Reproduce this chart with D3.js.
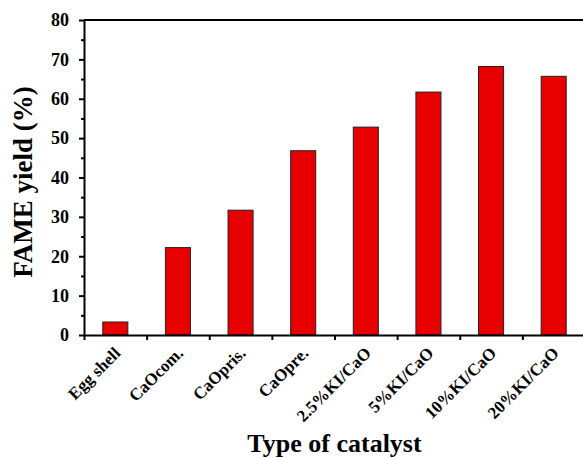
<!DOCTYPE html>
<html>
<head>
<meta charset="utf-8">
<script src="https://cdn.jsdelivr.net/npm/d3@7"></script>
<style>
  body { margin: 0; background: #fff; }
  svg { display: block; }
  text { font-family: "Liberation Serif", "Times New Roman", serif; font-weight: bold; fill: #000; }
</style>
</head>
<body>
<svg id="chart" width="583" height="459"></svg>
<script>
// data
const catalysts = ["Egg shell", "CaOcom.", "CaOpris.", "CaOpre.", "2.5%KI/CaO", "5%KI/CaO", "10%KI/CaO", "20%KI/CaO"];
const fameYield = [3.3, 22.2, 31.7, 46.8, 52.8, 61.7, 68.2, 65.7];
const yTicks = [0, 10, 20, 30, 40, 50, 60, 70, 80];
const yMinor = [5, 15, 25, 35, 45, 55, 65, 75];

const svg = d3.select("#chart");
const plotL = 84, plotR = 585, plotT = 20, plotB = 335;

const x = d3.scaleBand().domain(catalysts).range([plotL, plotR])
  .paddingInner(0.6).paddingOuter(0.3);
// tick marks sit on the boundaries between categories
const xEdge = d3.scaleLinear().domain([0, catalysts.length]).range([plotL, plotR]);
const y = d3.scaleLinear().domain([0, 80]).range([plotB, plotT]);

/* ---------- bars ---------- */
svg.append("g").selectAll("rect")
  .data(catalysts)
  .join("rect")
  .attr("x", d => x(d))
  .attr("y", (d, i) => y(fameYield[i]))
  .attr("width", x.bandwidth())
  .attr("height", (d, i) => y(0) - y(fameYield[i]))
  .attr("fill", "#e80000")
  .attr("stroke", "#222")
  .attr("stroke-width", 1);

/* ---------- axes ---------- */
const yAxis = svg.append("g").attr("transform", `translate(${plotL},0)`)
  .call(d3.axisLeft(y).tickValues(yTicks).tickSize(5).tickSizeOuter(0).tickPadding(10));
svg.append("g").attr("transform", `translate(${plotL},0)`)
  .call(d3.axisLeft(y).tickValues(yMinor).tickSize(3).tickFormat(""))
  .call(g => g.select(".domain").remove());
yAxis.selectAll("text").style("font-size", "18px");

svg.append("g").attr("transform", `translate(0,${plotB})`)
  .call(d3.axisBottom(xEdge).tickValues(d3.range(0, catalysts.length + 1)).tickSize(5).tickSizeOuter(0).tickFormat(""));

svg.selectAll(".domain, .tick line").attr("stroke", "#000").attr("stroke-width", 2);

// top frame line
svg.append("line")
  .attr("x1", plotL).attr("x2", plotR).attr("y1", plotT).attr("y2", plotT)
  .attr("stroke", "#000").attr("stroke-width", 2);

/* ---------- category labels ---------- */
svg.append("g").selectAll("text")
  .data(catalysts)
  .join("text")
  .attr("transform", d => `translate(${x(d) + x.bandwidth() / 2 + 2},350) rotate(-45)`)
  .attr("text-anchor", "end")
  .attr("dy", "0.35em")
  .style("font-size", "17px")
  .text(d => d);

/* ---------- axis titles ---------- */
svg.append("text")
  .attr("x", (plotL + plotR) / 2).attr("y", 452)
  .attr("text-anchor", "middle")
  .style("font-size", "26px")
  .text("Type of catalyst");

svg.append("text")
  .attr("transform", `translate(32,182) rotate(-90)`)
  .attr("text-anchor", "middle")
  .style("font-size", "27px")
  .text("FAME yield (%)");
</script>
</body>
</html>
